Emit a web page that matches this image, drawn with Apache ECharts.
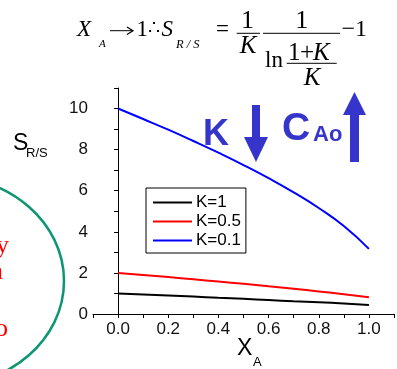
<!DOCTYPE html>
<html>
<head>
<meta charset="utf-8">
<script src="https://cdn.jsdelivr.net/npm/echarts@6/dist/echarts.min.js"></script>
<style>
  html, body { margin: 0; padding: 0; background: #fff; }
  #main { width: 397px; height: 369px; }
</style>
</head>
<body>
<div id="main"></div>
<script>
  // values
  const xValues = [0, 0.1, 0.2, 0.3, 0.4, 0.5, 0.6, 0.7, 0.8, 0.9, 1.0];
  const sK1 = [1.00, 0.95, 0.90, 0.85, 0.79, 0.74, 0.68, 0.62, 0.57, 0.51, 0.44];
  const sK05 = [2.00, 1.90, 1.80, 1.69, 1.58, 1.47, 1.35, 1.23, 1.10, 0.96, 0.82];
  const sK01 = [10.0, 9.49, 8.97, 8.42, 7.85, 7.25, 6.61, 5.92, 5.16, 4.28, 3.17];
  const seriesNames = ['K=1', 'K=0.5', 'K=0.1'];
  const seriesColors = ['#000000', '#ff0000', '#0000ff'];
  const xTickLabels = ['0.0', '0.2', '0.4', '0.6', '0.8', '1.0'];
  const yTickLabels = ['0', '2', '4', '6', '8', '10'];

  const serif = '"Liberation Serif","Times New Roman",serif';
  const sans = '"Liberation Sans",Arial,Helvetica,sans-serif';
  const annBlue = '#3535cc';

  function pairs(ys) {
    return xValues.map((x, i) => [x, ys[i]]);
  }

  function txt(x, y, text, size, extra) {
    return {
      type: 'text', x: x, y: y, silent: true,
      style: Object.assign({
        text: text, fontSize: size, fontFamily: serif, fill: '#000',
        align: 'left', verticalAlign: 'middle'
      }, extra || {})
    };
  }
  function hline(x1, x2, y) {
    return { type: 'line', silent: true, shape: { x1: x1, y1: y, x2: x2, y2: y }, style: { stroke: '#000', lineWidth: 1 } };
  }
  const it = { fontStyle: 'italic' };

  let myChart = echarts.init(document.getElementById('main'));

  let option = {
    backgroundColor: '#fff',
    animation: false,
    grid: { left: 93, top: 88, width: 305, height: 226, containLabel: false },
    legend: {
      data: seriesNames,
      orient: 'vertical',
      left: 146, top: 188,
      padding: [6, 5, 4, 7],
      itemGap: 2,
      itemWidth: 39, itemHeight: 2,
      icon: 'rect',
      borderColor: '#000', borderWidth: 1, borderRadius: 0,
      textStyle: { fontFamily: sans, fontSize: 17, color: '#000', padding: [0, 0, 0, -1] }
    },
    xAxis: {
      type: 'value', min: -0.1, max: 1.1, interval: 0.1,
      axisLine: { lineStyle: { color: '#000', width: 1 } },
      axisTick: { length: 4, lineStyle: { color: '#000' } },
      splitLine: { show: false },
      axisLabel: {
        margin: 7, fontFamily: sans, fontSize: 17, color: '#111',
        formatter: v => { const s = v.toFixed(1); return xTickLabels.includes(s) ? s : ''; }
      }
    },
    yAxis: {
      type: 'value', min: 0, max: 11, interval: 1,
      axisLine: { show: true, lineStyle: { color: '#000', width: 1 } },
      axisTick: { show: true, length: 4, lineStyle: { color: '#000' } },
      splitLine: { show: false },
      axisLabel: {
        margin: 5, fontFamily: sans, fontSize: 17, color: '#111',
        formatter: v => { const s = String(Math.round(v)); return yTickLabels.includes(s) ? s : ''; }
      }
    },
    series: [sK1, sK05, sK01].map((ys, i) => ({
      name: seriesNames[i],
      type: 'line',
      data: pairs(ys),
      symbol: 'none',
      smooth: true,
      lineStyle: { color: seriesColors[i], width: 2 },
      itemStyle: { color: seriesColors[i] }
    })),
    graphic: [
      // formula at the top
      txt(77, 29.5, 'X', 23, it),
      txt(99, 44.6, 'A', 11, it),
      hline(110, 133, 30.7),
      { type: 'polyline', silent: true, shape: { points: [[127, 27], [133, 30.7], [127, 34.4]] }, style: { stroke: '#000', lineWidth: 1.2, fill: 'none' } },
      txt(136.5, 29.5, '1', 23),
      txt(147.5, 29.5, '\u2234', 19),
      txt(161.5, 29.5, 'S', 23, it),
      txt(176, 44.6, 'R / S', 12.5, it),
      txt(216, 29.5, '=', 23),
      txt(247.5, 21.2, '1', 26, { align: 'center' }),
      hline(236.7, 260, 33.3),
      txt(248, 46.6, 'K', 25, { fontStyle: 'italic', align: 'center' }),
      txt(301.7, 21.2, '1', 26, { align: 'center' }),
      hline(263, 340, 33.3),
      txt(265, 60.5, 'ln', 23),
      txt(288, 53.3, '1', 25),
      txt(300, 53.3, '+', 25),
      txt(313, 53.3, 'K', 25, it),
      hline(286.7, 336.7, 63.3),
      txt(312, 78.3, 'K', 25, { fontStyle: 'italic', align: 'center' }),
      txt(341.5, 30, '\u22121', 24),

      // axis names
      txt(13, 143.5, 'S', 23, { fontFamily: sans }),
      txt(26, 153, 'R/S', 13, { fontFamily: sans }),
      txt(237, 348.5, 'X', 23, { fontFamily: sans }),
      txt(253, 362.5, 'A', 13, { fontFamily: sans }),

      // blue annotations
      txt(203, 135, 'K', 36, { fontFamily: sans, fontWeight: 'bold', fill: annBlue }),
      { type: 'rect', silent: true, shape: { x: 252, y: 105, width: 8, height: 33 }, style: { fill: annBlue } },
      { type: 'polygon', silent: true, shape: { points: [[244, 137], [268, 137], [256, 162]] }, style: { fill: annBlue } },
      txt(282, 129, 'C', 39, { fontFamily: sans, fontWeight: 'bold', fill: annBlue }),
      txt(313, 135, 'Ao', 22, { fontFamily: sans, fontWeight: 'bold', fill: annBlue }),
      { type: 'polygon', silent: true, shape: { points: [[343, 115], [366, 115], [354.5, 92]] }, style: { fill: annBlue } },
      { type: 'rect', silent: true, shape: { x: 350, y: 114, width: 9, height: 48 }, style: { fill: annBlue } },

      // cropped slide content on the left
      { type: 'ellipse', silent: true, shape: { cx: -56, cy: 281, rx: 120, ry: 105 }, style: { fill: 'none', stroke: '#0e9673', lineWidth: 2.5 } },
      txt(9, 246, 'y', 26, { align: 'right', fill: '#ff0000' }),
      txt(3, 272, 'n', 26, { align: 'right', fill: '#ff0000' }),
      txt(8, 329, 'o', 26, { align: 'right', fill: '#ff0000' })
    ]
  };

  myChart.setOption(option);
</script>
</body>
</html>
